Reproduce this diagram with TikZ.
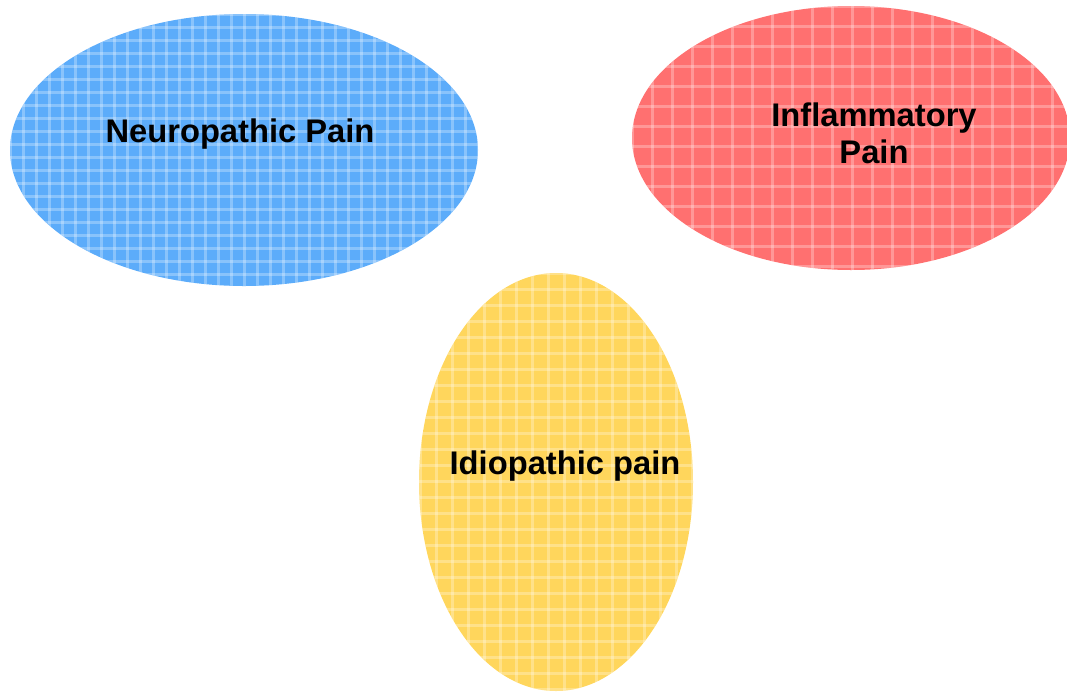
\documentclass[tikz,border=0pt]{standalone}
\usepackage{fontspec}
\setmainfont{Liberation Sans}
\usetikzlibrary{shapes.geometric}
\definecolor{blueF}{RGB}{92,172,250}
\definecolor{redF}{RGB}{255,112,112}
\definecolor{yelF}{RGB}{255,214,92}
\tikzset{
  blob/.style={ellipse, inner sep=0pt, draw=none},
  lbl/.style={font=\fontsize{32.7}{37}\selectfont\bfseries, align=center, text=black},
  plaid/.style={white, opacity=0.28, line width=3pt}
}
\begin{document}
\begin{tikzpicture}[x=1pt,y=-1pt]
\useasboundingbox (0,0) rectangle (1067,691);
\node[blob, fill=blueF, minimum width=468pt, minimum height=272pt] (neuro) at (244,150) {};
\node[blob, fill=redF, minimum width=438pt, minimum height=264pt] (infl) at (851,138) {};
\node[blob, fill=yelF, minimum width=274pt, minimum height=418pt] (idio) at (556,482) {};
\begin{scope}
\clip (244,150) ellipse [x radius=234, y radius=136];
\foreach \x in {0,13,...,490} \draw[plaid] (10+\x,0) -- (10+\x,300);
\foreach \y in {0,13,...,290} \draw[plaid] (0,14+\y) -- (490,14+\y);
\end{scope}
\begin{scope}
\clip (851,138) ellipse [x radius=219, y radius=132];
\foreach \x in {0,20,...,460} \draw[plaid] (632+\x,0) -- (632+\x,280);
\foreach \y in {0,20,...,280} \draw[plaid] (620,6+\y) -- (1080,6+\y);
\end{scope}
\begin{scope}
\clip (556,482) ellipse [x radius=137, y radius=209];
\foreach \x in {0,16,...,290} \draw[plaid] (420+\x,270) -- (420+\x,691);
\foreach \y in {0,16,...,430} \draw[plaid] (410,273+\y) -- (700,273+\y);
\end{scope}
\node[lbl] (neurot) at (240,134) {Neuropathic Pain};
\node[lbl] (inflt) at (874,133) {Inflammatory\\Pain};
\node[lbl] (idiot) at (565,466) {Idiopathic pain};
\end{tikzpicture}
\end{document}
